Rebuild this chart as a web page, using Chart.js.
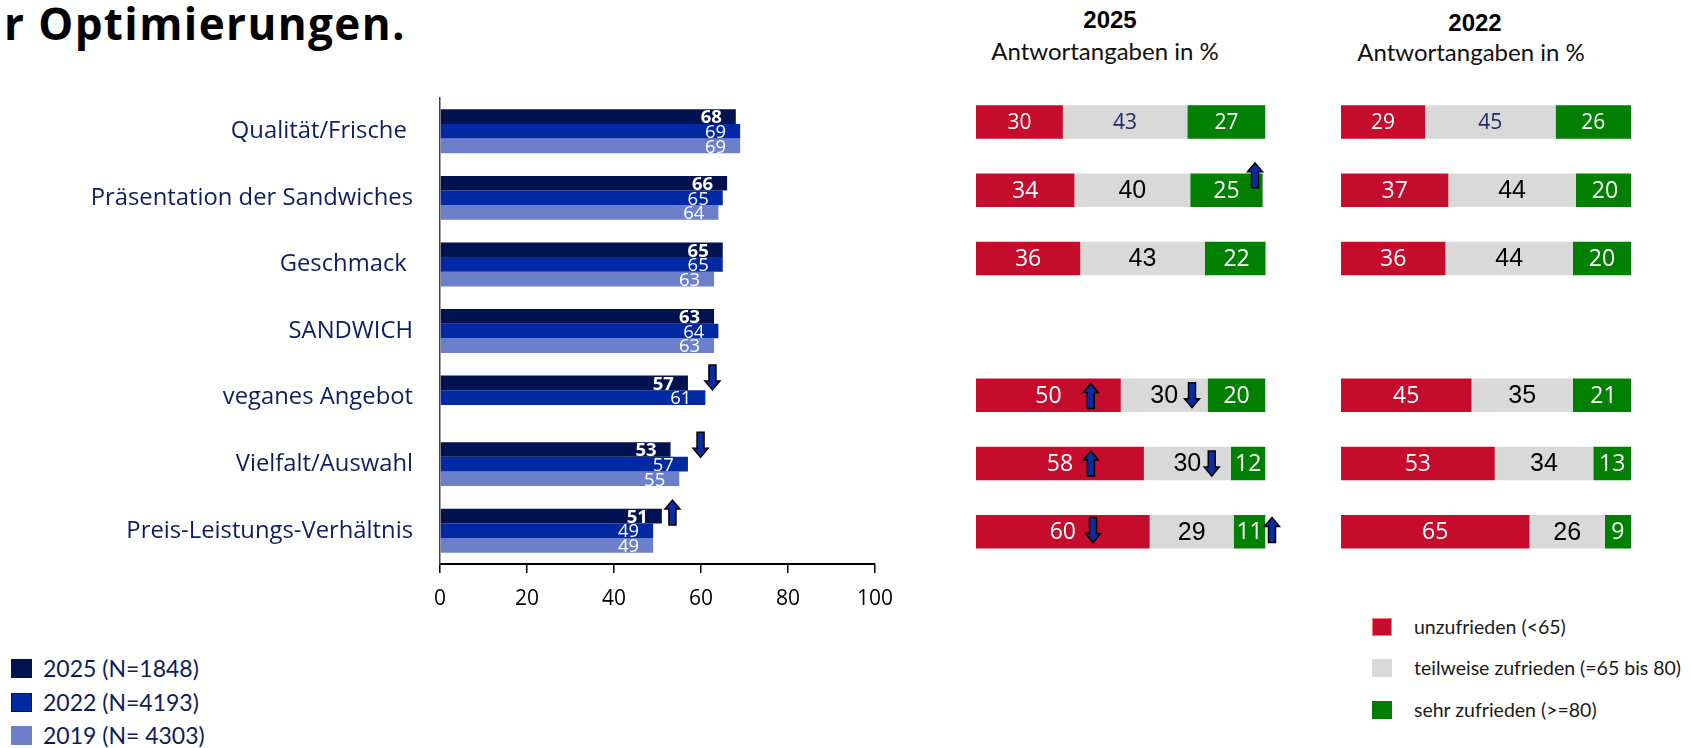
<!DOCTYPE html>
<html lang="de">
<head>
<meta charset="utf-8">
<title>Zufriedenheit Sandwich</title>
<script src="https://cdn.jsdelivr.net/npm/chart.js@4.4.1/dist/chart.umd.min.js"></script>
<style>
  html, body { margin: 0; padding: 0; background: #fff; }
  body { width: 1691px; height: 748px; position: relative; overflow: hidden; }
  canvas { position: absolute; }
  .t { position: absolute; white-space: nowrap; margin: 0; }
  #title { left: 4px; top: 1px; font: 700 44px/44px "Open Sans", sans-serif; letter-spacing: 1.4px; color: #000; }
  .yr { font: 700 24px/24px "Liberation Sans", Arial, sans-serif; color: #000; transform: translateX(-50%); }
  .sub { font: 400 24px/24px Lato, sans-serif; color: #111; transform: translateX(-50%); }
  .legend { position: absolute; }
  .legend .row { display: flex; align-items: center; white-space: nowrap; }
  .legend .sw { flex: none; box-sizing: border-box; }
  #legendYears { left: 11px; top: 652px; }
  #legendYears .row { height: 33.6px; font: 400 23px/23px Lato, sans-serif; color: #101c5a; }
  #legendYears .sw { width: 21px; height: 19px; margin-right: 11px; }
  #legendRating { left: 1372px; top: 606px; }
  #legendRating .row { height: 41.5px; font: 400 19.5px/20px Lato, sans-serif; color: #1a1a1a; }
  #legendRating .sw { width: 20px; height: 18px; margin-right: 22px; }
</style>
</head>
<body>
<div id="title" class="t">r Optimierungen.</div>
<div class="t yr" style="left:1110px; top:8px;">2025</div>
<div class="t sub" style="left:1105px; top:39px;">Antwortangaben in %</div>
<div class="t yr" style="left:1475px; top:11px;">2022</div>
<div class="t sub" style="left:1471px; top:40px;">Antwortangaben in %</div>

<canvas id="ranking" width="906" height="640" style="left:0; top:0;"></canvas>
<canvas id="split2025" width="360" height="600" style="left:940px; top:0;"></canvas>
<canvas id="split2022" width="380" height="600" style="left:1300px; top:0;"></canvas>

<div id="legendYears" class="legend"></div>
<div id="legendRating" class="legend"></div>

<script>
// ---- data ----
const categories = ['Qualität/Frische ', 'Präsentation der Sandwiches', 'Geschmack ', 'SANDWICH',
                    'veganes Angebot', 'Vielfalt/Auswahl', 'Preis-Leistungs-Verhältnis'];
const seriesNames = ['2025 (N=1848)', '2022 (N=4193)', '2019 (N= 4303)'];
const score2025 = [68, 66, 65, 63, 57, 53, 51];
const score2022 = [69, 65, 65, 64, 61, 57, 49];
const score2019 = [69, 64, 63, 63, null, 55, 49];
const xTickValues = [0, 20, 40, 60, 80, 100];

const ratingNames = ['unzufrieden (<65)', 'teilweise zufrieden (=65 bis 80)', 'sehr zufrieden (>=80)'];
const unzufrieden2025 = [30, 34, 36, null, 50, 58, 60];
const teilweise2025   = [43, 40, 43, null, 30, 30, 29];
const sehr2025        = [27, 25, 22, null, 20, 12, 11];
const unzufrieden2022 = [29, 37, 36, null, 45, 53, 65];
const teilweise2022   = [45, 44, 44, null, 35, 34, 26];
const sehr2022        = [26, 20, 20, null, 21, 13, 9];

// significant changes: row, dataset, direction
const rankingTrends = [
  { row: 4, seg: 0, dir: 'down', dx: 24.5, dy: -5.5 },
  { row: 5, seg: 0, dir: 'down', dx: 30, dy: -4.7 },
  { row: 6, seg: 0, dir: 'up', dx: 10.6, dy: -3.5 }
];
const splitTrends2025 = [
  { row: 1, seg: 2, dir: 'up', dx: -7.6, dy: -15 },
  { row: 4, seg: 0, dir: 'up', dx: -30, dy: 0.8 },
  { row: 4, seg: 1, dir: 'down', dx: -15.6, dy: 0 },
  { row: 5, seg: 0, dir: 'up', dx: -53, dy: 0 },
  { row: 5, seg: 1, dir: 'down', dx: -19, dy: 0 },
  { row: 6, seg: 0, dir: 'down', dx: -56.7, dy: -1.8 },
  { row: 6, seg: 2, dir: 'up', dx: 6.5, dy: -1.8 }
];

// ---- styling ----
const yearColors = ['#00124f', '#0029a3', '#6b80c9'];
const ratingColors = ['#c60c2d', '#d9d9d9', '#008000'];

function drawArrow(ctx, cx, cy, dir) {
  const h = 25, headW = 15, shaftW = 7, headH = 9;
  const s = dir === 'up' ? -1 : 1;
  const tip = cy + s * h / 2, tail = cy - s * h / 2, neck = tip - s * headH;
  ctx.save();
  ctx.beginPath();
  ctx.moveTo(cx - shaftW / 2, tail);
  ctx.lineTo(cx - shaftW / 2, neck);
  ctx.lineTo(cx - headW / 2, neck);
  ctx.lineTo(cx, tip);
  ctx.lineTo(cx + headW / 2, neck);
  ctx.lineTo(cx + shaftW / 2, neck);
  ctx.lineTo(cx + shaftW / 2, tail);
  ctx.closePath();
  ctx.fillStyle = '#0a2c9e';
  ctx.fill();
  ctx.lineWidth = 1.5;
  ctx.strokeStyle = '#000';
  ctx.lineJoin = 'miter';
  ctx.stroke();
  ctx.restore();
}

function trendArrows(items) {
  return {
    id: 'trendArrows',
    afterDatasetsDraw(chart) {
      items.forEach(a => {
        const el = chart.getDatasetMeta(a.seg).data[a.row];
        if (!el) return;
        const p = el.getProps(['x', 'y'], true);
        drawArrow(chart.ctx, p.x + a.dx, p.y + (a.dy || 0), a.dir);
      });
    }
  };
}

// values written inside the bar ends
const barValueLabels = {
  id: 'barValueLabels',
  afterDatasetsDraw(chart) {
    const ctx = chart.ctx;
    chart.data.datasets.forEach((ds, di) => {
      chart.getDatasetMeta(di).data.forEach((el, i) => {
        const v = ds.data[i];
        if (v == null) return;
        const p = el.getProps(['x', 'y'], true);
        ctx.save();
        ctx.font = (di === 0 ? '700 ' : '400 ') + '18.5px "Open Sans", sans-serif';
        ctx.fillStyle = '#fff';
        ctx.textAlign = 'right';
        ctx.textBaseline = 'middle';
        ctx.fillText(String(v), p.x - 14, p.y + 1.5);
        ctx.restore();
      });
    });
  }
};

function segStyle(di, row) {
  if (row === 0) return { font: '400 21px "Open Sans", sans-serif', color: di === 1 ? '#1f2a6e' : '#fff' };
  if (di === 1) return { font: '400 25px "Liberation Sans", Arial, sans-serif', color: '#000' };
  return { font: '400 23px "Open Sans", sans-serif', color: '#fff' };
}

// values centred in each stacked segment
const segmentLabels = {
  id: 'segmentLabels',
  afterDatasetsDraw(chart) {
    const ctx = chart.ctx;
    chart.data.datasets.forEach((ds, di) => {
      chart.getDatasetMeta(di).data.forEach((el, i) => {
        const v = ds.data[i];
        if (v == null) return;
        const p = el.getProps(['x', 'y', 'base'], true);
        const st = segStyle(di, i);
        ctx.save();
        ctx.font = st.font;
        ctx.fillStyle = st.color;
        ctx.textAlign = 'center';
        ctx.textBaseline = 'middle';
        ctx.fillText(String(v), (p.x + p.base) / 2, p.y + 1);
        ctx.restore();
      });
    });
  }
};

// ---- left: mean score per aspect and year ----
new Chart(document.getElementById('ranking'), {
  type: 'bar',
  data: {
    labels: categories,
    datasets: [score2025, score2022, score2019].map((d, i) => ({
      label: seriesNames[i],
      data: d,
      backgroundColor: yearColors[i],
      borderWidth: 0,
      categoryPercentage: 0.66,
      barPercentage: 1
    }))
  },
  options: {
    indexAxis: 'y',
    responsive: false,
    animation: false,
    devicePixelRatio: 1,
    layout: { padding: { top: 98, right: 30, left: 0, bottom: 0 } },
    plugins: { legend: { display: false }, tooltip: { enabled: false } },
    scales: {
      x: {
        min: 0, max: 100,
        afterBuildTicks: s => { s.ticks = xTickValues.map(v => ({ value: v })); },
        ticks: { font: { family: 'Open Sans', size: 21 }, color: '#000', padding: 13 },
        grid: { drawOnChartArea: false, drawTicks: true, tickLength: 9, color: '#000', lineWidth: 1.5 },
        border: { display: true, color: '#000', width: 2 },
        afterFit: s => { s.height = 76; }
      },
      y: {
        ticks: { font: { family: 'Open Sans', size: 23.8 }, color: '#0d1f5e', padding: 27 },
        grid: { display: false, drawTicks: false },
        border: { display: true, color: '#444', width: 1.5 },
        afterFit: s => { s.width = 440; }
      }
    }
  },
  plugins: [barValueLabels, trendArrows(rankingTrends)]
});

// ---- right: distribution of ratings ----
function splitChart(id, series, pad, trends) {
  return new Chart(document.getElementById(id), {
    type: 'bar',
    data: {
      labels: categories,
      datasets: series.map((d, i) => ({
        label: ratingNames[i],
        data: d,
        backgroundColor: ratingColors[i],
        borderWidth: 0,
        categoryPercentage: 0.49,
        barPercentage: 1
      }))
    },
    options: {
      indexAxis: 'y',
      responsive: false,
      animation: false,
      devicePixelRatio: 1,
      layout: { padding: pad },
      plugins: { legend: { display: false }, tooltip: { enabled: false } },
      scales: {
        x: { stacked: true, min: 0, max: 100, display: false },
        y: { stacked: true, display: false }
      }
    },
    plugins: [segmentLabels, trendArrows(trends)]
  });
}

splitChart('split2025', [unzufrieden2025, teilweise2025, sehr2025],
  { left: 36, right: 34.5, top: 87.85, bottom: 34.05 }, splitTrends2025);
splitChart('split2022', [unzufrieden2022, teilweise2022, sehr2022],
  { left: 41, right: 49, top: 87.85, bottom: 34.05 }, []);

// ---- legends ----
function buildLegend(id, names, colors, borders) {
  const box = document.getElementById(id);
  names.forEach((n, i) => {
    const row = document.createElement('div');
    row.className = 'row';
    const sw = document.createElement('span');
    sw.className = 'sw';
    sw.style.background = colors[i];
    if (borders[i]) sw.style.border = '1px solid ' + borders[i];
    const tx = document.createElement('span');
    tx.textContent = n;
    row.appendChild(sw);
    row.appendChild(tx);
    box.appendChild(row);
  });
}
buildLegend('legendYears', seriesNames, yearColors, [null, '#00155e', null]);
buildLegend('legendRating', ratingNames, ratingColors, ['#ff7b7b', null, null]);
</script>
</body>
</html>
